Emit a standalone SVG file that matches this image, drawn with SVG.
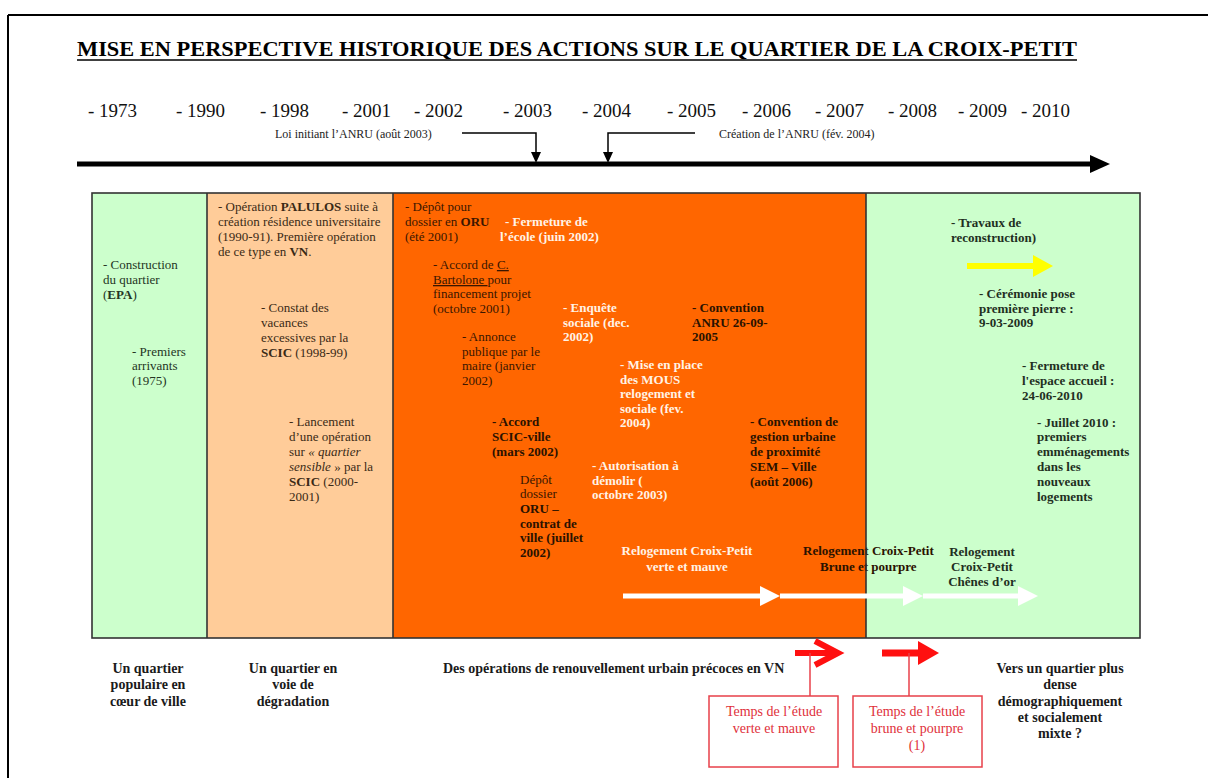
<svg xmlns="http://www.w3.org/2000/svg" width="1208" height="778" viewBox="0 0 1208 778" font-family="'Liberation Serif', 'DejaVu Serif', serif">
<style>
svg text{font-family:'Liberation Serif','DejaVu Serif',serif;font-size:13px}
.b{font-weight:bold}
.yr{font-size:19px;fill:#111}
.note{font-size:12px;fill:#222}
.g{fill:#243524}
.p{fill:#3a2a16}
.d{fill:#3a1600}
.w{fill:#fff3e6;font-weight:bold}
.db{fill:#2a1200;font-weight:bold}
.gb{fill:#1f2f1f;font-weight:bold}
.lab{font-size:14px;font-weight:bold;fill:#1a1a1a;text-anchor:middle}
.rt{font-size:14px;fill:#e0303a;text-anchor:middle}
.c{text-anchor:middle}
.blk{stroke:#000;fill:none}
</style>
<rect x="0" y="0" width="1208" height="778" fill="#fff"/>
<g id="frame">
<line x1="8" y1="15" x2="1208" y2="15" stroke="#000" stroke-width="2"/>
<line x1="8" y1="15" x2="8" y2="778" stroke="#000" stroke-width="2"/>
</g>
<g id="title">
<text x="77" y="56" class="b" style="font-size:21px" textLength="1000" lengthAdjust="spacingAndGlyphs">MISE EN PERSPECTIVE HISTORIQUE DES ACTIONS SUR LE QUARTIER DE LA CROIX-PETIT</text>
<line x1="77" y1="60" x2="1077" y2="60" stroke="#000" stroke-width="1.5"/>
</g>
<g id="years">
<text x="88" y="117" class="yr">- 1973</text>
<text x="176" y="117" class="yr">- 1990</text>
<text x="260" y="117" class="yr">- 1998</text>
<text x="342" y="117" class="yr">- 2001</text>
<text x="414" y="117" class="yr">- 2002</text>
<text x="503" y="117" class="yr">- 2003</text>
<text x="582" y="117" class="yr">- 2004</text>
<text x="667" y="117" class="yr">- 2005</text>
<text x="742" y="117" class="yr">- 2006</text>
<text x="815" y="117" class="yr">- 2007</text>
<text x="888" y="117" class="yr">- 2008</text>
<text x="958" y="117" class="yr">- 2009</text>
<text x="1021" y="117" class="yr">- 2010</text>
</g>
<g id="note-loi">
<text x="275" y="138" class="note">Loi initiant l’ANRU (août 2003)</text>
</g>
<g id="note-creation">
<text x="719" y="138" class="note">Création de l’ANRU (fév. 2004)</text>
</g>
<g id="panels">
<rect id="panel-1" x="92" y="193" width="115" height="445" fill="#ccffcc"/>
<rect id="panel-2" x="207" y="193" width="186" height="445" fill="#ffcc99"/>
<rect id="panel-3" x="393" y="193" width="473" height="445" fill="#ff6600"/>
<rect id="panel-4" x="866" y="193" width="274" height="445" fill="#ccffcc"/>
</g>
<g id="n-construction" class="g">
<text x="103" y="269">- Construction</text>
<text x="103" y="284">du quartier</text>
<text x="103" y="299">(<tspan class="b">EPA</tspan>)</text>
</g>
<g id="n-premiers" class="g">
<text x="132" y="356">- Premiers</text>
<text x="132" y="370">arrivants</text>
<text x="132" y="385">(1975)</text>
</g>
<g id="n-palulos" class="p">
<text x="218" y="211">- Opération <tspan class="b">PALULOS</tspan> suite à</text>
<text x="218" y="226">création résidence universitaire</text>
<text x="218" y="241">(1990-91). Première opération</text>
<text x="218" y="256">de ce type en <tspan class="b">VN</tspan>.</text>
</g>
<g id="n-constat" class="p">
<text x="261" y="312">- Constat des</text>
<text x="261" y="327">vacances</text>
<text x="261" y="342">excessives par la</text>
<text x="261" y="357"><tspan class="b">SCIC</tspan> (1998-99)</text>
</g>
<g id="n-lancement" class="p">
<text x="289" y="426">- Lancement</text>
<text x="289" y="441">d’une opération</text>
<text x="289" y="456">sur <tspan font-style="italic">« quartier</tspan></text>
<text x="289" y="471"><tspan font-style="italic">sensible</tspan> » par la</text>
<text x="289" y="486"><tspan class="b">SCIC</tspan> (2000-</text>
<text x="289" y="501">2001)</text>
</g>
<g id="n-depot-oru" class="d">
<text x="405" y="211">- Dépôt pour</text>
<text x="405" y="226">dossier en <tspan class="b">ORU</tspan></text>
<text x="405" y="241">(été 2001)</text>
</g>
<g id="n-fermeture-ecole">
<text x="505" y="226" class="w">- Fermeture de</text>
<text x="500" y="241" class="w">l’école (juin 2002)</text>
</g>
<g id="n-bartolone" class="d">
<text x="433" y="269">- Accord de <tspan text-decoration="underline">C.</tspan></text>
<text x="433" y="284"><tspan text-decoration="underline">Bartolone </tspan>pour</text>
<text x="433" y="298">financement projet</text>
<text x="433" y="313">(octobre 2001)</text>
</g>
<g id="n-enquete">
<text x="563" y="312" class="w">- Enquête</text>
<text x="563" y="327" class="w">sociale (dec.</text>
<text x="563" y="341" class="w">2002)</text>
</g>
<g id="n-convention-anru">
<text x="692" y="312" class="db">- Convention</text>
<text x="692" y="327" class="db">ANRU 26-09-</text>
<text x="692" y="341" class="db">2005</text>
</g>
<g id="n-annonce" class="d">
<text x="462" y="341">- Annonce</text>
<text x="462" y="356">publique par le</text>
<text x="462" y="370">maire (janvier</text>
<text x="462" y="385">2002)</text>
</g>
<g id="n-mous">
<text x="620" y="369" class="w">- Mise en place</text>
<text x="620" y="384" class="w">des MOUS</text>
<text x="620" y="398" class="w">relogement et</text>
<text x="620" y="413" class="w">sociale (fev.</text>
<text x="620" y="427" class="w">2004)</text>
</g>
<g id="n-accord-scic">
<text x="492" y="426" class="db">- Accord</text>
<text x="492" y="441" class="db">SCIC-ville</text>
<text x="492" y="456" class="db">(mars 2002)</text>
</g>
<g id="n-convention-gestion">
<text x="750" y="426" class="db">- Convention de</text>
<text x="750" y="441" class="db">gestion urbaine</text>
<text x="750" y="456" class="db">de proximité</text>
<text x="750" y="471" class="db">SEM – Ville</text>
<text x="750" y="486" class="db">(août 2006)</text>
</g>
<g id="n-autorisation">
<text x="592" y="470" class="w">- Autorisation à</text>
<text x="592" y="485" class="w">démolir (</text>
<text x="592" y="499" class="w">octobre  2003)</text>
</g>
<g id="n-depot-contrat">
<text x="520" y="484" class="d">Dépôt</text>
<text x="520" y="498" class="d">dossier</text>
<text x="520" y="513" class="db">ORU –</text>
<text x="520" y="528" class="db">contrat de</text>
<text x="520" y="542" class="db">ville (juillet</text>
<text x="520" y="557" class="db">2002)</text>
</g>
<g id="n-relog-verte">
<text x="687" y="555" class="w c">Relogement Croix-Petit</text>
<text x="687" y="571" class="w c">verte et mauve</text>
</g>
<g id="n-relog-brune">
<text x="803" y="555" class="db">Relogement Croix-Petit</text>
<text x="820" y="571" class="db">Brune et pourpre</text>
</g>
<g id="n-relog-chenes">
<text x="982" y="556" class="gb c">Relogement</text>
<text x="982" y="571" class="gb c">Croix-Petit</text>
<text x="982" y="586" class="gb c">Chênes d’or</text>
</g>
<g id="n-travaux">
<text x="951" y="227" class="gb">- Travaux de</text>
<text x="951" y="242" class="gb">reconstruction)</text>
</g>
<g id="n-ceremonie">
<text x="979" y="298" class="gb">- Cérémonie pose</text>
<text x="979" y="313" class="gb">première pierre :</text>
<text x="979" y="327" class="gb">9-03-2009</text>
</g>
<g id="n-fermeture-accueil">
<text x="1022" y="370" class="gb">- Fermeture de</text>
<text x="1022" y="385" class="gb">l'espace accueil :</text>
<text x="1022" y="400" class="gb">24-06-2010</text>
</g>
<g id="n-juillet">
<text x="1037" y="427" class="gb">- Juillet 2010 :</text>
<text x="1037" y="441" class="gb">premiers</text>
<text x="1037" y="456" class="gb">emménagements</text>
<text x="1037" y="471" class="gb">dans les</text>
<text x="1037" y="486" class="gb">nouveaux</text>
<text x="1037" y="501" class="gb">logements</text>
</g>
<g id="panel-borders" fill="none" stroke="#333" stroke-width="1.6">
<rect x="92" y="193" width="1048" height="445"/>
<line x1="207" y1="193" x2="207" y2="638"/>
<line x1="393" y1="193" x2="393" y2="638"/>
<line x1="866" y1="193" x2="866" y2="638"/>
</g>
<g id="connectors">
<line x1="77" y1="164" x2="1092" y2="164" stroke="#000" stroke-width="5"/>
<polygon points="1090,155 1110,164 1090,173" fill="#000"/>
<polyline points="462,133 536,133 536,154" class="blk" stroke-width="1.5"/>
<polygon points="531,152 541,152 536,163" fill="#000"/>
<polyline points="695,133 608,133 608,154" class="blk" stroke-width="1.5"/>
<polygon points="603,152 613,152 608,163" fill="#000"/>
<line x1="967" y1="266" x2="1036" y2="266" stroke="#ffff00" stroke-width="6"/>
<polygon points="1033,255 1053,266 1033,277" fill="#ffff00"/>
<line x1="623" y1="596" x2="762" y2="596" stroke="#fff" stroke-width="5"/>
<polygon points="760,586 780,596 760,606" fill="#fff"/>
<line x1="780" y1="596" x2="905" y2="596" stroke="#fff" stroke-width="5"/>
<polygon points="903,586 923,596 903,606" fill="#fff"/>
<line x1="923" y1="596" x2="1020" y2="596" stroke="#fff" stroke-width="5"/>
<polygon points="1018,586 1038,596 1018,606" fill="#fff"/>
<line x1="795" y1="653" x2="836" y2="653" stroke="#ff1010" stroke-width="6"/>
<polyline points="815,641 838,653 815,665" fill="none" stroke="#ff1010" stroke-width="6"/>
<line x1="810" y1="653" x2="810" y2="696" stroke="#e8404a" stroke-width="1.5"/>
<line x1="882" y1="653" x2="920" y2="653" stroke="#ff1010" stroke-width="7"/>
<polygon points="918,641 939,653 918,665" fill="#ff1010"/>
<line x1="909" y1="653" x2="909" y2="696" stroke="#e8404a" stroke-width="1.5"/>
</g>
<g id="n-etude-verte">
<rect x="709" y="696" width="129" height="71" fill="#fff" stroke="#e8404a" stroke-width="1.5"/>
<text x="774" y="716" class="rt">Temps de l’étude</text>
<text x="774" y="733" class="rt">verte et mauve</text>
</g>
<g id="n-etude-brune">
<rect x="853" y="696" width="129" height="71" fill="#fff" stroke="#e8404a" stroke-width="1.5"/>
<text x="917" y="716" class="rt">Temps de l’étude</text>
<text x="917" y="733" class="rt">brune et pourpre</text>
<text x="917" y="750" class="rt">(1)</text>
</g>
<g id="lab-populaire">
<text x="148" y="673" class="lab">Un quartier</text>
<text x="148" y="689" class="lab">populaire en</text>
<text x="148" y="706" class="lab">cœur de ville</text>
</g>
<g id="lab-degradation">
<text x="293" y="673" class="lab">Un quartier en</text>
<text x="293" y="689" class="lab">voie de</text>
<text x="293" y="706" class="lab">dégradation</text>
</g>
<g id="lab-operations">
<text x="443" y="673" class="lab" style="text-anchor:start">Des opérations de renouvellement urbain précoces en VN</text>
</g>
<g id="lab-mixte">
<text x="1060" y="673" class="lab">Vers un quartier plus</text>
<text x="1060" y="689" class="lab">dense</text>
<text x="1060" y="706" class="lab">démographiquement</text>
<text x="1060" y="722" class="lab">et socialement</text>
<text x="1060" y="738" class="lab">mixte ?</text>
</g>
</svg>
